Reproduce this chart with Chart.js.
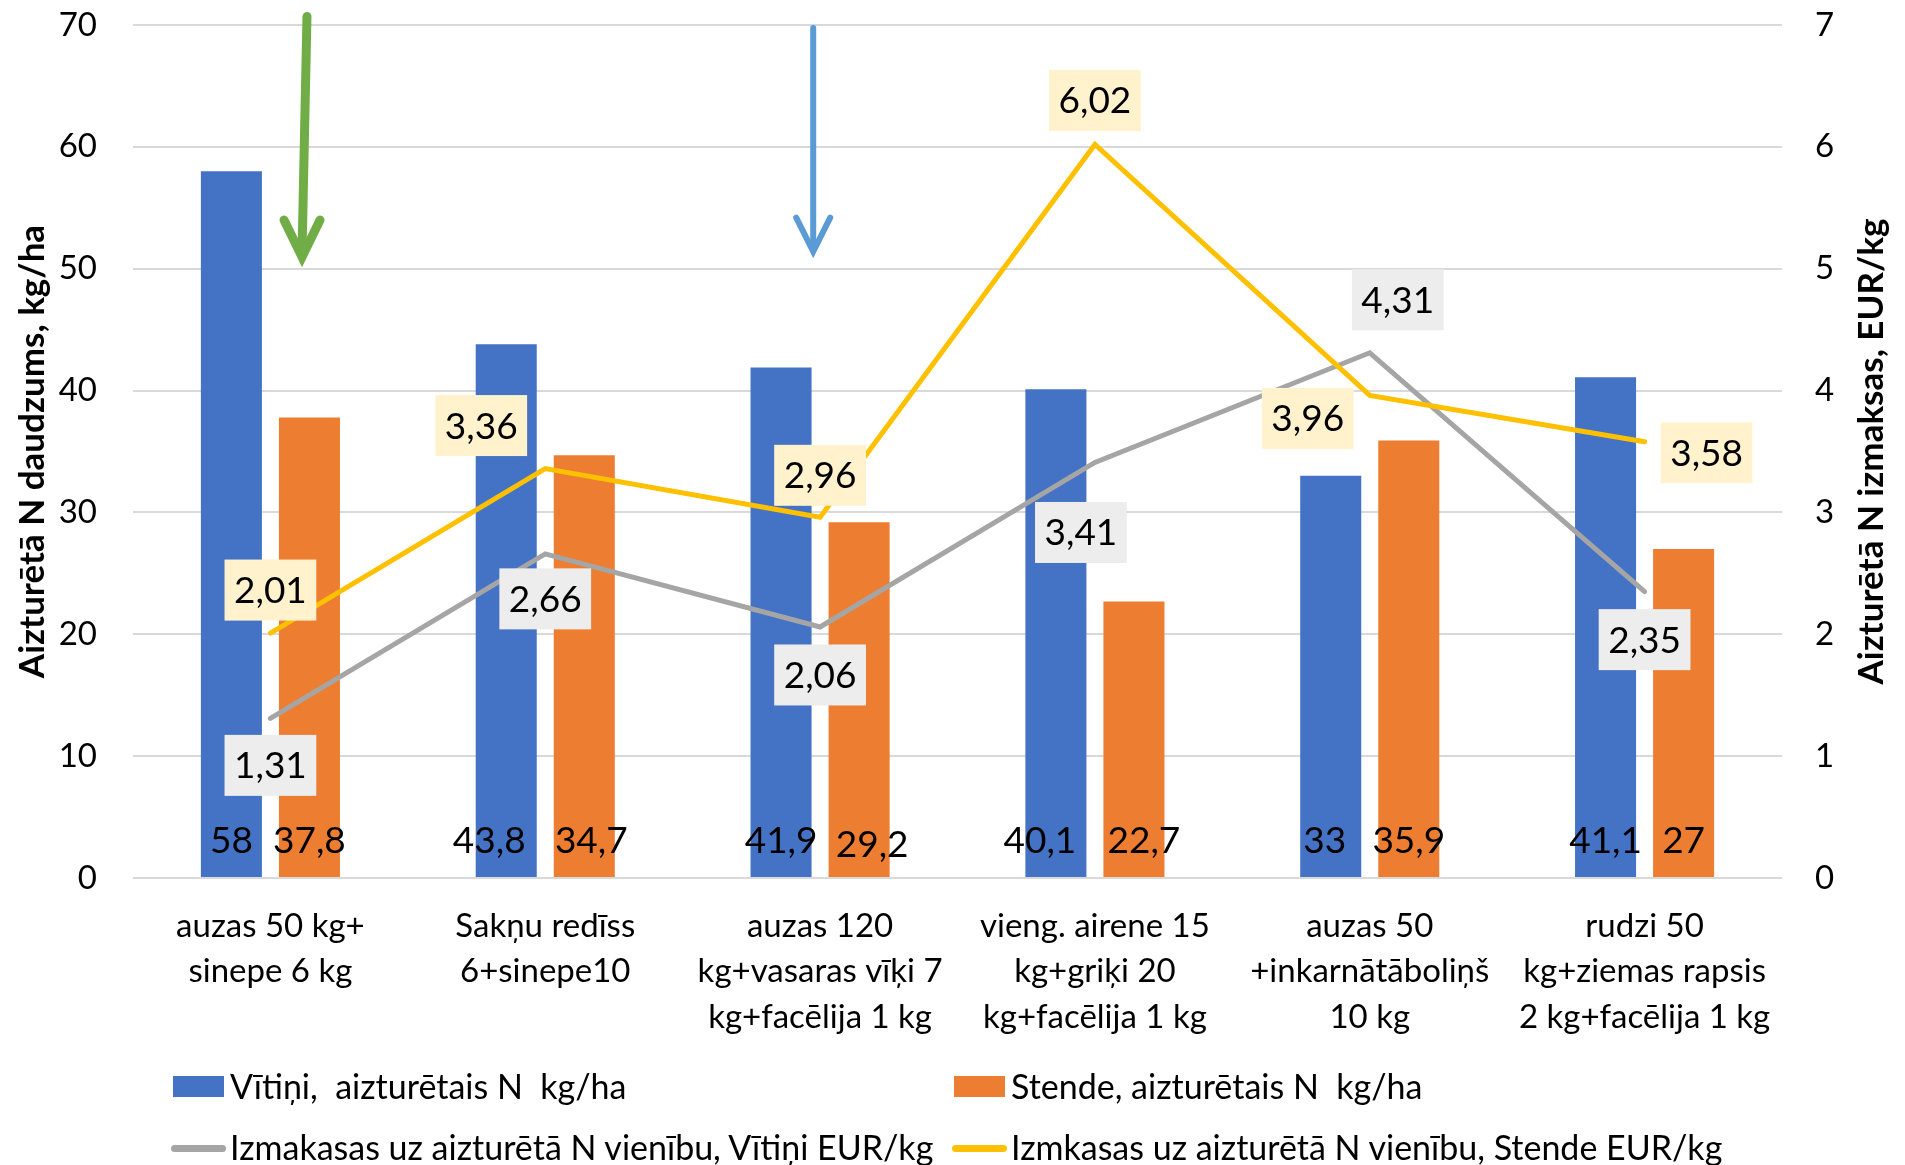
<!DOCTYPE html>
<html><head><meta charset="utf-8">
<script src="https://cdn.jsdelivr.net/npm/chart.js@4.4.1/dist/chart.umd.min.js"></script>
<style>
html,body{margin:0;padding:0;background:#fff;}
#wrap{position:relative;width:1905px;height:1165px;overflow:hidden;font-family:Lato,sans-serif;}
#c{position:absolute;left:0;top:0;}
.lgt{position:absolute;font-size:34px;color:#000;white-space:pre;line-height:34px;}
.sw{position:absolute;}
</style></head><body>
<div id="wrap"><canvas id="c" width="1905" height="1165"></canvas><div id="legend"></div></div>
<script>
// ---- data ----
const categories = [
  ["auzas 50 kg+", "sinepe 6 kg"],
  ["Sakņu redīss", "6+sinepe10"],
  ["auzas 120", "kg+vasaras vīķi 7", "kg+facēlija 1 kg"],
  ["vieng. airene 15", "kg+griķi 20", "kg+facēlija 1 kg"],
  ["auzas 50", "+inkarnātāboliņš", "10 kg"],
  ["rudzi 50", "kg+ziemas rapsis", "2 kg+facēlija 1 kg"]
];
const vitiniN = [58, 43.8, 41.9, 40.1, 33, 41.1];
const stendeN = [37.8, 34.7, 29.2, 22.7, 35.9, 27];
const vitiniCost = [1.31, 2.66, 2.06, 3.41, 4.31, 2.35];
const stendeCost = [2.01, 3.36, 2.96, 6.02, 3.96, 3.58];
const seriesNames = [
  "Vītiņi,  aizturētais N  kg/ha",
  "Stende, aizturētais N  kg/ha",
  "Izmakasas uz aizturētā N vienību, Vītiņi EUR/kg",
  "Izmkasas uz aizturētā N vienību, Stende EUR/kg"
];
const leftAxisTitle = "Aizturētā N daudzums, kg/ha";
const rightAxisTitle = "Aizturētā N izmaksas, EUR/kg";

// ---- styles ----
const colors = ['#4472C4', '#ED7D31', '#A5A5A5', '#FFC000'];
const labelBg = {2: '#EDEDED', 3: '#FFF2CC'};
const labelOffsets = {
  2: [[0,47],[0,45],[0,48],[-14,70],[28,-53],[0,48]],
  3: [[0,-43],[-64,-43],[0,-42],[0,-44],[-62,23],[62,11]]
};
const barLabelShift = {
  0: [[0,0],[-17,0],[0,0],[-16,0],[-6,0],[0,0]],
  1: [[0,0],[7,0],[13,4],[10,0],[0,0],[0,0]]
};
// annotation arrows in data coordinates (category index, left-axis value)
const arrows = [
  {color:'#70AD47', width:9, from:[0.133, 70.7], to:[0.115, 50.96], head:[18,37]},
  {color:'#5B9BD5', width:6, from:[1.975, 69.75], to:[1.975, 51.4], head:[17,34]}
];
const FONT = 'Lato';
const fmt = v => String(v).replace('.', ',');

const customPlugin = {
  id: 'custom',
  afterDatasetsDraw(chart) {
    const ctx = chart.ctx;
    const xs = chart.scales.x, ys = chart.scales.y;
    ctx.save();
    // arrows
    const step = xs.getPixelForValue(1) - xs.getPixelForValue(0);
    arrows.forEach(a => {
      const x0 = xs.getPixelForValue(0) + a.from[0] * step;
      const x1 = xs.getPixelForValue(0) + a.to[0] * step;
      const y0 = ys.getPixelForValue(a.from[1]);
      const y1 = ys.getPixelForValue(a.to[1]);
      ctx.strokeStyle = a.color; ctx.lineWidth = a.width; ctx.lineCap = 'round'; ctx.lineJoin = 'miter';
      ctx.beginPath(); ctx.moveTo(x0, y0); ctx.lineTo(x1, y1 - 4); ctx.stroke();
      ctx.beginPath();
      ctx.moveTo(x1 - a.head[0], y1 - a.head[1]);
      ctx.lineTo(x1, y1);
      ctx.lineTo(x1 + a.head[0], y1 - a.head[1]);
      ctx.stroke();
    });
    // bar value labels
    ctx.font = '37px ' + FONT; ctx.fillStyle = '#000'; ctx.textAlign = 'center'; ctx.textBaseline = 'alphabetic';
    [0, 1].forEach(di => {
      chart.getDatasetMeta(di).data.forEach((el, i) => {
        const s = barLabelShift[di][i];
        ctx.fillText(fmt(chart.data.datasets[di].data[i]), el.x + s[0], ys.getPixelForValue(0) - 25 + s[1]);
      });
    });
    // line value labels with boxes
    [2, 3].forEach(di => {
      chart.getDatasetMeta(di).data.forEach((el, i) => {
        const t = fmt(chart.data.datasets[di].data[i]);
        const w = ctx.measureText(t).width + 19, h = 61;
        const cx = el.x + labelOffsets[di][i][0], cy = el.y + labelOffsets[di][i][1];
        ctx.fillStyle = labelBg[di];
        ctx.fillRect(cx - w / 2, cy - h / 2, w, h);
        ctx.fillStyle = '#000';
        ctx.fillText(t, cx, cy + 13);
      });
    });
    ctx.restore();
  },
  afterDraw(chart) {
    const ctx = chart.ctx, ca = chart.chartArea;
    ctx.save();
    ctx.translate(chart.width - 33, (ca.top + ca.bottom) / 2);
    ctx.rotate(-Math.PI / 2);
    ctx.font = 'bold 35px ' + FONT; ctx.fillStyle = '#000';
    ctx.textAlign = 'center'; ctx.textBaseline = 'middle';
    ctx.fillText(rightAxisTitle, 0, 0);
    ctx.restore();
  }
};

function buildLegend() {
  const lg = document.getElementById('legend');
  const cols = [173, 954], rows = [1087, 1148], textDx = 57;
  seriesNames.forEach((name, i) => {
    const x = cols[i % 2], y = rows[Math.floor(i / 2)];
    const sw = document.createElement('div');
    sw.className = 'sw';
    if (i < 2) {
      Object.assign(sw.style, {left: x + 'px', top: (y - 11) + 'px', width: '51px', height: '21px', background: colors[i]});
    } else {
      Object.assign(sw.style, {left: (x - 2) + 'px', top: (y - 3) + 'px', width: '55px', height: '7px', background: colors[i], borderRadius: '4px'});
    }
    lg.appendChild(sw);
    const t = document.createElement('div');
    t.className = 'lgt';
    t.textContent = name;
    Object.assign(t.style, {left: (x + textDx) + 'px', top: (y - 18) + 'px'});
    lg.appendChild(t);
  });
}

function noPad(s) { s.paddingTop = 0; s.paddingBottom = 0; }

function draw() {
  const tickFont = {family: FONT, size: 33};
  new Chart(document.getElementById('c'), {
    data: {
      labels: categories,
      datasets: [
        {type: 'bar', label: seriesNames[0], data: vitiniN, backgroundColor: colors[0], yAxisID: 'y', order: 2, categoryPercentage: 0.568, barPercentage: 0.782},
        {type: 'bar', label: seriesNames[1], data: stendeN, backgroundColor: colors[1], yAxisID: 'y', order: 2, categoryPercentage: 0.568, barPercentage: 0.782},
        {type: 'line', label: seriesNames[2], data: vitiniCost, borderColor: colors[2], backgroundColor: colors[2], borderWidth: 5, pointRadius: 0, yAxisID: 'y1', order: 1, tension: 0, borderCapStyle: 'round', borderJoinStyle: 'miter'},
        {type: 'line', label: seriesNames[3], data: stendeCost, borderColor: colors[3], backgroundColor: colors[3], borderWidth: 5, pointRadius: 0, yAxisID: 'y1', order: 0, tension: 0, borderCapStyle: 'round', borderJoinStyle: 'miter'}
      ]
    },
    options: {
      responsive: false,
      animation: false,
      devicePixelRatio: 1,
      layout: {padding: {top: 25, left: 0, right: 0, bottom: 0}, autoPadding: false},
      plugins: {legend: {display: false}, tooltip: {enabled: false}},
      scales: {
        x: {
          offset: true,
          grid: {display: false, drawTicks: false},
          border: {display: false},
          ticks: {font: {...tickFont, lineHeight: 1.39}, color: '#000', padding: 25, maxRotation: 0, autoSkip: false},
          afterFit(s) { s.height = 287; s.paddingLeft = 0; s.paddingRight = 0; }
        },
        y: {
          position: 'left', min: 0, max: 70,
          ticks: {stepSize: 10, font: tickFont, color: '#000', padding: 36},
          grid: {color: '#D9D9D9', lineWidth: 2, drawTicks: false},
          border: {display: false},
          title: {display: true, text: leftAxisTitle, color: '#000', font: {family: FONT, size: 35, weight: 'bold'}, padding: {top: 12, bottom: 0}},
          afterFit(s) { s.width = 133; noPad(s); }
        },
        y1: {
          position: 'right', min: 0, max: 7,
          ticks: {stepSize: 1, font: tickFont, color: '#000', padding: 33},
          grid: {display: false, drawTicks: false},
          border: {display: false},
          afterFit(s) { s.width = 123; noPad(s); }
        }
      }
    },
    plugins: [customPlugin]
  });
  buildLegend();
}

Promise.all([
  document.fonts.load('33px Lato'),
  document.fonts.load('bold 35px Lato'),
  document.fonts.load('37px Lato')
]).then(draw, draw);
</script>
</body></html>
